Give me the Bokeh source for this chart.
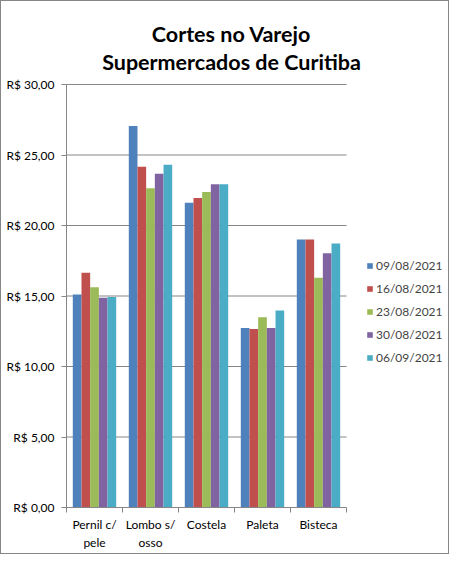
import numpy as np
from bokeh.plotting import figure
from bokeh.models import (ColumnDataSource, Range1d, FixedTicker, Legend, LegendItem, Label,
                          InlineStyleSheet)
from bokeh.embed import file_html
from bokeh.resources import INLINE

categories = ["Pernil c/\npele", "Lombo s/\nosso", "Costela", "Paleta", "Bisteca"]
dates = ["09/08/2021", "16/08/2021", "23/08/2021", "30/08/2021", "06/09/2021"]
s_0908 = [15.10, 27.05, 21.61, 12.73, 19.00]
s_1608 = [16.65, 24.16, 21.95, 12.66, 19.00]
s_2308 = [15.62, 22.64, 22.37, 13.49, 16.30]
s_3008 = [14.87, 23.67, 22.92, 12.73, 18.03]
s_0609 = [14.93, 24.30, 22.92, 13.97, 18.72]
series = [s_0908, s_1608, s_2308, s_3008, s_0609]
colors = ["#4F81BD", "#C0504D", "#9BBB59", "#8064A2", "#4BACC6"]
y_ticks = [0, 5, 10, 15, 20, 25, 30]
y_labels = ["R$ 0,00", "R$ 5,00", "R$ 10,00", "R$ 15,00", "R$ 20,00", "R$ 25,00", "R$ 30,00"]
title_lines = ["Cortes no Varejo", "Supermercados de Curitiba"]

FONT = "Lato"
GRAY = "#868686"

W, H = 449, 554
LEFT, BOTTOM = 65, 48
PLOT_W, PLOT_H = 280, 423        # pixel size of the category/value area
FRAME_W, FRAME_H = W - LEFT, H - BOTTOM
n = len(categories)
ymax = y_ticks[-1]

p = figure(width=W, height=H, output_backend="svg", toolbar_location=None,
           x_range=Range1d(0, n * FRAME_W / PLOT_W),
           y_range=Range1d(0, ymax * FRAME_H / PLOT_H),
           min_border_left=LEFT, min_border_right=0, min_border_top=0, min_border_bottom=BOTTOM)
p.outline_line_color = None
p.styles = {"border": "1px solid #868686"}
p.stylesheets = [InlineStyleSheet(css="text { font-variant-ligatures: none; }")]
p.xgrid.visible = False
p.ygrid.visible = False

# horizontal gridlines only across the category area
p.segment(x0=[0] * len(y_ticks), x1=[n] * len(y_ticks), y0=y_ticks, y1=y_ticks,
          line_color=GRAY, line_width=1)

bw = 0.155
items = []
for j, (vals, c, d) in enumerate(zip(series, colors, dates)):
    xs = np.arange(n) + 0.5 + (j - 2) * bw
    src = ColumnDataSource(dict(x=xs, top=vals))
    r = p.vbar(x="x", top="top", width=bw, source=src, fill_color=c, line_color=None)
    items.append(LegendItem(label=d, renderers=[r]))

xa = p.xaxis[0]
xa.bounds = (0, n)
xa.ticker = FixedTicker(ticks=[i + 0.5 for i in range(n)], minor_ticks=list(range(n + 1)))
xa.major_label_overrides = {i + 0.5: c for i, c in enumerate(categories)}
xa.major_tick_line_color = None
xa.minor_tick_line_color = GRAY
xa.minor_tick_in = 0
xa.minor_tick_out = 5
xa.axis_line_color = GRAY
xa.major_label_text_font = FONT
xa.major_label_text_font_size = "12px"
xa.major_label_text_color = "black"
xa.major_label_standoff = 3

ya = p.yaxis[0]
ya.bounds = (0, ymax)
ya.ticker = FixedTicker(ticks=y_ticks, minor_ticks=[])
ya.major_label_overrides = {t: l for t, l in zip(y_ticks, y_labels)}
ya.major_tick_line_color = GRAY
ya.major_tick_in = 0
ya.major_tick_out = 5
ya.axis_line_color = GRAY
ya.major_label_text_font = FONT
ya.major_label_text_font_size = "12px"
ya.major_label_text_color = "black"
ya.major_label_standoff = 7

legend = Legend(items=items, location=(300, 142), orientation="vertical",
                padding=0, margin=0, spacing=7, label_height=16,
                glyph_width=7, glyph_height=7, label_standoff=3,
                border_line_color=None, background_fill_alpha=0,
                label_text_font=FONT, label_text_font_size="12px")
p.add_layout(legend, "center")

for txt, vy in zip(title_lines, [474, 446]):
    p.add_layout(Label(x=165, y=vy, x_units="screen", y_units="screen", text=txt,
                       text_align="center", text_baseline="alphabetic",
                       text_font=FONT, text_font_style="bold", text_font_size="21.5px",
                       text_color="black"))

open("out.html", "w").write(file_html(p, INLINE))
